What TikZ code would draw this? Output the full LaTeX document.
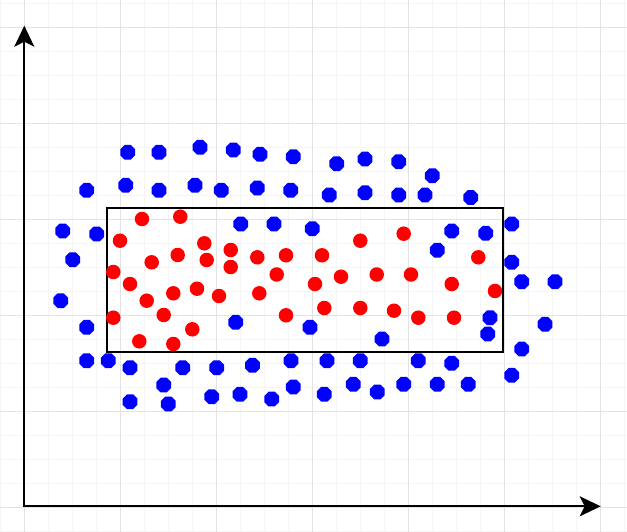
\documentclass[tikz,border=0pt]{standalone}
\usetikzlibrary{shapes.geometric, arrows.meta}

\begin{document}
\begin{tikzpicture}[x = 1pt, y = -1pt,
        blueDot/.style = {regular polygon, regular polygon sides = 8, fill = blue, minimum size = 16pt, inner sep = 0pt},
        redDot/.style = {circle, fill = red, minimum size = 14.5pt, inner sep = 0pt},
        minorGrid/.style = {draw = gray!8, line width = 1pt},
        majorGrid/.style = {draw = gray!22, line width = 1pt},
        axis/.style = {line width = 2pt, {Stealth[length = 21pt, width = 20pt, inset = 5pt]}-{Stealth[length = 21pt, width = 20pt, inset = 5pt]}}]
        \useasboundingbox (0, 0) rectangle (627, 532);
        \fill[white] (0, 0) rectangle (627, 532);

        \foreach \gx in {0.3, 24.3, ..., 627} \draw[minorGrid] (\gx, 0) -- (\gx, 532);
        \foreach \gy in {3.3, 27.3, ..., 532} \draw[minorGrid] (0, \gy) -- (627, \gy);
        \foreach \gx in {24.3, 120.3, ..., 627} \draw[majorGrid] (\gx, 0) -- (\gx, 532);
        \foreach \gy in {27.3, 123.3, ..., 532} \draw[majorGrid] (0, \gy) -- (627, \gy);

        \coordinate (origin) at (24.3, 506.3);
        \coordinate (yEnd) at (24.3, 25.7);
        \coordinate (xEnd) at (600.7, 506.3);
        \draw[axis] (yEnd) -- (origin) -- (xEnd);

        \node[rectangle, draw, color = black, line width = 2pt, minimum width = 395.4pt, minimum height = 143.7pt, inner sep = 0pt] (selectBox) at (305, 280.2) {};

        \foreach \px/\py [count = \i] in {127.7/152.3, 159/152.3, 200/147.3, 233.3/150, 260/154.3, 293.3/156.7, 336.7/163.7, 365/159, 398.7/161.7, 432.3/175.7,
                86.7/190.3, 125.7/185.3, 159/190.3, 195/185.3, 221.3/190.3, 257.3/188, 290.7/190.3, 329.3/195, 365/192.7, 398.7/195, 425/195, 470.7/197.5,
                62.7/231, 96.7/234, 72.7/259.7, 60.7/300.7, 86.7/327.3, 86.7/360.7, 108.3/360.7,
                240.7/224, 274/224, 312.3/228.7, 451.7/231, 485.7/233.3, 437.3/250.2, 235.7/322.3, 310/327.3, 382/339, 490/317.7, 487.7/334,
                511.7/224, 511.7/262.3, 521.7/281.7, 555/281.7, 545/324.3, 521.7/349, 511.7/375.3,
                130/367.7, 182.7/367.7, 216.7/367.7, 252.5/365.3, 291/360.7, 327/360.7, 360.3/360.7, 418.3/360.7, 451.7/363.3,
                163.7/385, 211.7/396.7, 240/394.3, 271.7/399, 293.3/387, 324.3/394.3, 353.3/384.3, 377.3/392, 403.7/384.3, 437.3/384.3, 468.3/384.3,
                130/401.7, 168.3/404}
            \node[blueDot] (blueDot\i) at (\px, \py) {};

        \foreach \px/\py [count = \i] in {142/219, 180.3/216.7, 120/240.7, 204.3/243.3, 151.7/262.3, 177.7/255, 206.7/260, 230.7/250, 230.7/267,
                113.3/272, 130/284, 146.7/300.7, 173.3/293.3, 197/288.7, 219/296, 259.3/293.3, 113.3/317.7, 163.7/315, 192.3/329.3, 139.3/341.3, 173.3/344,
                257.3/257.3, 286/255.3, 322/255.3, 276.7/274.5, 315/284, 341/276.7, 376.7/274.5, 411/274.5, 451.7/284,
                360.3/240.7, 403.7/233.7, 478.3/257.3, 495/291, 286/315.3, 324.3/308, 360.3/308, 394/310.7, 418.3/317.7, 454/317.7}
            \node[redDot] (redDot\i) at (\px, \py) {};
      \end{tikzpicture}
\end{document}
